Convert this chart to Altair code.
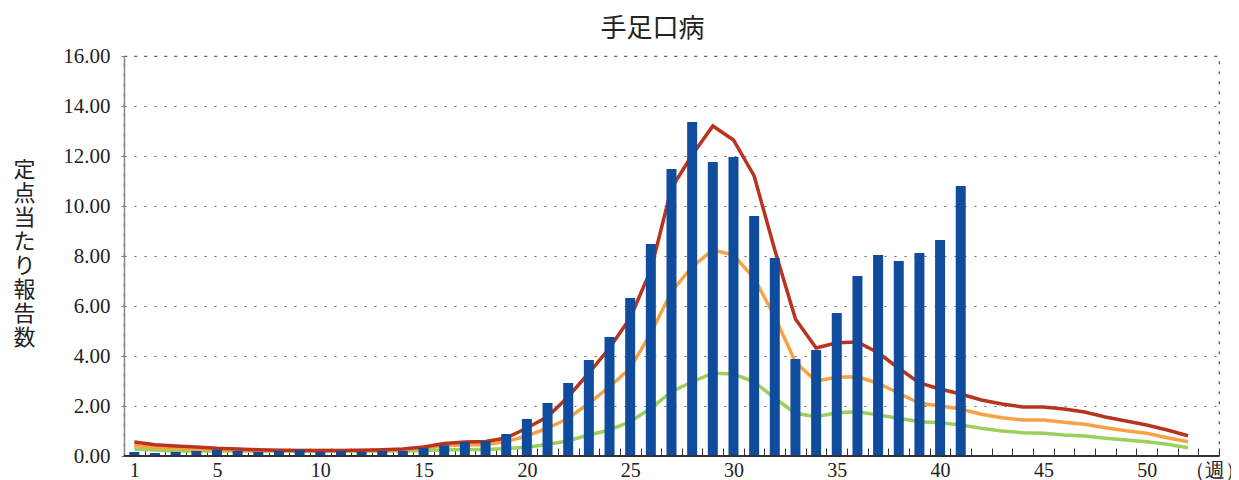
import altair as alt
import pandas as pd

# ---- data ----
weeks_all = list(range(1, 54))
x_label_weeks = [1, 5, 10, 15, 20, 25, 30, 35, 40, 45, 50]
unit_label = "（週）"
y_ticks = [0, 2, 4, 6, 8, 10, 12, 14, 16]

bar_weeks = list(range(1, 42))
bar_values = [0.16, 0.12, 0.16, 0.20, 0.25, 0.20, 0.16, 0.20, 0.25, 0.16,
              0.20, 0.16, 0.20, 0.20, 0.32, 0.43, 0.56, 0.60, 0.88, 1.48,
              2.12, 2.92, 3.84, 4.76, 6.32, 8.48, 11.48, 13.36, 11.76, 11.96,
              9.60, 7.92, 3.88, 4.24, 5.72, 7.20, 8.04, 7.80, 8.12, 8.64,
              10.80]

line_weeks = list(range(1, 53))
red_values = [0.56, 0.45, 0.40, 0.36, 0.31, 0.28, 0.25, 0.23, 0.22, 0.22,
              0.22, 0.23, 0.25, 0.28, 0.36, 0.50, 0.56, 0.58, 0.72, 1.12,
              1.57, 2.37, 3.32, 4.32, 5.52, 7.44, 10.72, 12.04, 13.20, 12.64,
              11.20, 8.24, 5.48, 4.32, 4.53, 4.56, 4.13, 3.51, 2.92, 2.68,
              2.48, 2.24, 2.08, 1.96, 1.96, 1.88, 1.76, 1.56, 1.40, 1.24,
              1.04, 0.81]
orange_values = [0.42, 0.34, 0.31, 0.28, 0.25, 0.22, 0.22, 0.22, 0.22, 0.22,
                 0.22, 0.22, 0.22, 0.25, 0.32, 0.41, 0.45, 0.45, 0.58, 0.80,
                 1.11, 1.51, 2.11, 2.77, 3.51, 4.91, 6.57, 7.57, 8.24, 8.04,
                 7.11, 5.57, 3.75, 3.00, 3.15, 3.17, 2.91, 2.51, 2.11, 2.00,
                 1.88, 1.67, 1.53, 1.44, 1.44, 1.35, 1.27, 1.13, 1.01, 0.91,
                 0.73, 0.57]
green_values = [0.28, 0.24, 0.20, 0.20, 0.20, 0.20, 0.20, 0.20, 0.20, 0.20,
                0.20, 0.20, 0.20, 0.20, 0.22, 0.24, 0.26, 0.26, 0.30, 0.35,
                0.46, 0.61, 0.84, 1.04, 1.37, 1.91, 2.57, 2.97, 3.31, 3.28,
                2.97, 2.31, 1.71, 1.57, 1.73, 1.77, 1.64, 1.51, 1.37, 1.33,
                1.24, 1.11, 1.00, 0.93, 0.91, 0.84, 0.80, 0.71, 0.64, 0.57,
                0.47, 0.33]

bar_df = pd.DataFrame({"week": bar_weeks, "value": bar_values})
red_df = pd.DataFrame({"week": line_weeks, "value": red_values})
orange_df = pd.DataFrame({"week": line_weeks, "value": orange_values})
green_df = pd.DataFrame({"week": line_weeks, "value": green_values})

label_list = "[" + ",".join(str(w) for w in x_label_weeks) + "]"
label_expr = (f"datum.value == {weeks_all[-1]} ? '{unit_label}' : "
              f"(indexof({label_list}, datum.value) >= 0 ? datum.label : '')")

x_axis = alt.Axis(
    title=None, tickBand="extent", tickSize=8, tickColor="#333", tickWidth=1,
    domain=False, offset=-8, labelExpr=label_expr, labelAngle=0,
    labelFont="Liberation Serif", labelFontSize=20, labelColor="#222",
    labelPadding=4, labelOverlap=False, grid=False,
    labelOffset={"condition": {"test": f"datum.value == {weeks_all[-1]}", "value": 6}, "value": 0},
)
x_enc = alt.X("week:O", scale=alt.Scale(domain=weeks_all, paddingInner=0, paddingOuter=0),
              axis=x_axis)

y_axis = alt.Axis(
    values=y_ticks, format=".2f", title=list("定点当たり報告数"), titleAngle=0,
    titleX=-100, titleY=103, titleAlign="center", titleBaseline="top",
    titleFontSize=22, titleLineHeight=24, titleFont="Noto Sans CJK JP",
    titleFontWeight="normal", titleColor="#222",
    labelFont="Liberation Serif", labelFontSize=21, labelColor="#222",
    labelPadding=11, tickSize=3, tickColor="#777",
    domainColor="#888", domainWidth=1.5,
    grid=True, gridDash=[2, 8], gridColor="#666", gridWidth=1.2,
)
y_enc = alt.Y("value:Q", scale=alt.Scale(domain=[0, 16], nice=False), axis=y_axis)


def line_layer(df, color):
    return alt.Chart(df).mark_line(color=color, strokeWidth=3.5).encode(x=x_enc, y=y_enc)


green = line_layer(green_df, "#9DCF5E")
orange = line_layer(orange_df, "#F8A245")
red = line_layer(red_df, "#B8341F")
bars = alt.Chart(bar_df).mark_bar(color="#0F4C9D", width=10).encode(x=x_enc, y=y_enc)
baseline = alt.Chart(bar_df).mark_rule(color="#333", strokeWidth=1.5).encode(y=alt.datum(0))

chart = alt.layer(green, orange, red, bars, baseline).properties(
    width=1095, height=400,
    autosize=alt.AutoSizeParams(type="none"),
    padding={"left": 116, "top": 48, "right": 12, "bottom": 26},
    title=alt.TitleParams("手足口病", font="Noto Sans CJK JP", fontSize=26,
                          fontWeight="normal", color="#222", anchor="middle",
                          frame="group", dx=-19, offset=3),
).configure_view(stroke="#555", strokeDash=[3, 7], strokeWidth=1.2)

chart.save("out.html", embed_options={"renderer": "svg", "actions": False})
